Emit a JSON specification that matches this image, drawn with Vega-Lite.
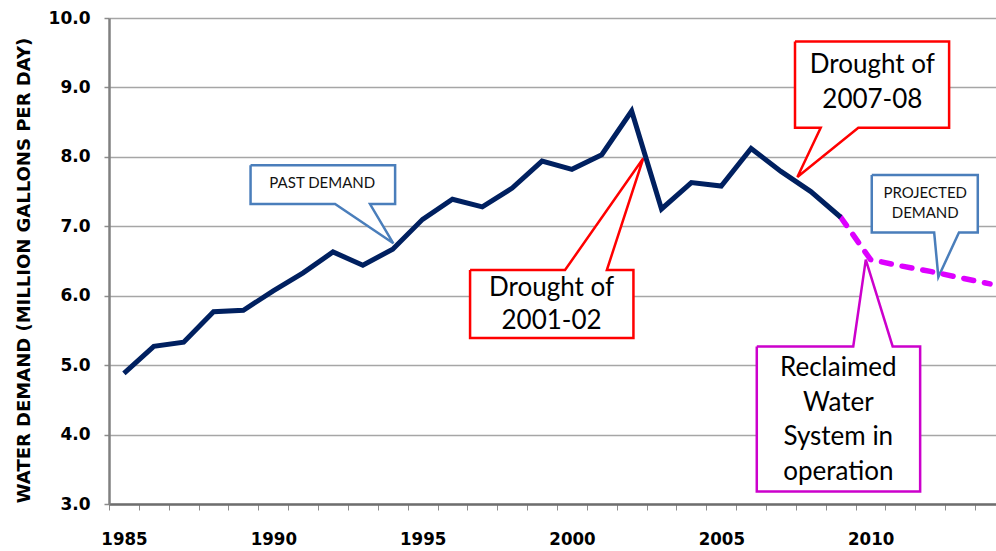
{
  "$schema": "https://vega.github.io/schema/vega-lite/v6.json",
  "width": 887,
  "height": 486,
  "autosize": "none",
  "padding": {"left": 109, "top": 18, "right": 0, "bottom": 47},
  "background": "white",
  "config": {"view": {"stroke": null}},
  "datasets": {
    "past": [
      {"year": 1985, "demand": 4.88}, {"year": 1986, "demand": 5.27}, {"year": 1987, "demand": 5.33},
      {"year": 1988, "demand": 5.77}, {"year": 1989, "demand": 5.79}, {"year": 1990, "demand": 6.07},
      {"year": 1991, "demand": 6.33}, {"year": 1992, "demand": 6.63}, {"year": 1993, "demand": 6.44},
      {"year": 1994, "demand": 6.67}, {"year": 1995, "demand": 7.10}, {"year": 1996, "demand": 7.39},
      {"year": 1997, "demand": 7.28}, {"year": 1998, "demand": 7.55}, {"year": 1999, "demand": 7.94},
      {"year": 2000, "demand": 7.82}, {"year": 2001, "demand": 8.03}, {"year": 2002, "demand": 8.66},
      {"year": 2003, "demand": 7.25}, {"year": 2004, "demand": 7.63}, {"year": 2005, "demand": 7.58},
      {"year": 2006, "demand": 8.12}, {"year": 2007, "demand": 7.79}, {"year": 2008, "demand": 7.50},
      {"year": 2009, "demand": 7.13}
    ],
    "projected": [
      {"year": 2009, "demand": 7.13}, {"year": 2010, "demand": 6.52}, {"year": 2011, "demand": 6.43},
      {"year": 2012, "demand": 6.35}, {"year": 2013, "demand": 6.26}, {"year": 2014, "demand": 6.17}
    ],
    "callouts": [
      {"id": "past", "i": 0, "x": 1989.24, "y": 7.88}, {"id": "past", "i": 1, "x": 1994.08, "y": 7.88},
      {"id": "past", "i": 2, "x": 1994.08, "y": 7.32}, {"id": "past", "i": 3, "x": 1993.24, "y": 7.32},
      {"id": "past", "i": 4, "x": 1994.02, "y": 6.755}, {"id": "past", "i": 5, "x": 1992.07, "y": 7.32},
      {"id": "past", "i": 6, "x": 1989.24, "y": 7.32}, {"id": "past", "i": 7, "x": 1989.24, "y": 7.88},

      {"id": "d0102", "i": 0, "x": 1996.59, "y": 6.37}, {"id": "d0102", "i": 1, "x": 1999.77, "y": 6.37},
      {"id": "d0102", "i": 2, "x": 2002.39, "y": 7.98}, {"id": "d0102", "i": 3, "x": 2001.17, "y": 6.37},
      {"id": "d0102", "i": 4, "x": 2002.06, "y": 6.37}, {"id": "d0102", "i": 5, "x": 2002.06, "y": 5.39},
      {"id": "d0102", "i": 6, "x": 1996.59, "y": 5.39}, {"id": "d0102", "i": 7, "x": 1996.59, "y": 6.37},

      {"id": "d0708", "i": 0, "x": 2007.47, "y": 9.66}, {"id": "d0708", "i": 1, "x": 2012.63, "y": 9.66},
      {"id": "d0708", "i": 2, "x": 2012.63, "y": 8.42}, {"id": "d0708", "i": 3, "x": 2009.59, "y": 8.42},
      {"id": "d0708", "i": 4, "x": 2007.55, "y": 7.71}, {"id": "d0708", "i": 5, "x": 2008.33, "y": 8.42},
      {"id": "d0708", "i": 6, "x": 2007.47, "y": 8.42}, {"id": "d0708", "i": 7, "x": 2007.47, "y": 9.66},

      {"id": "recl", "i": 0, "x": 2006.19, "y": 5.27}, {"id": "recl", "i": 1, "x": 2009.42, "y": 5.27},
      {"id": "recl", "i": 2, "x": 2009.84, "y": 6.52}, {"id": "recl", "i": 3, "x": 2010.74, "y": 5.27},
      {"id": "recl", "i": 4, "x": 2011.66, "y": 5.27}, {"id": "recl", "i": 5, "x": 2011.66, "y": 3.18},
      {"id": "recl", "i": 6, "x": 2006.19, "y": 3.18}, {"id": "recl", "i": 7, "x": 2006.19, "y": 5.27},

      {"id": "proj", "i": 0, "x": 2010.04, "y": 7.74}, {"id": "proj", "i": 1, "x": 2013.59, "y": 7.74},
      {"id": "proj", "i": 2, "x": 2013.59, "y": 6.91}, {"id": "proj", "i": 3, "x": 2012.96, "y": 6.91},
      {"id": "proj", "i": 4, "x": 2012.27, "y": 6.27}, {"id": "proj", "i": 5, "x": 2012.13, "y": 6.91},
      {"id": "proj", "i": 6, "x": 2010.04, "y": 6.91}, {"id": "proj", "i": 7, "x": 2010.04, "y": 7.74}
    ],
    "labels": [
      {"group": "small", "x": 1991.64, "y": 7.63, "text": "PAST  DEMAND"},
      {"group": "small", "x": 2011.83, "y": 7.48, "text": "PROJECTED"},
      {"group": "small", "x": 2011.83, "y": 7.19, "text": "DEMAND"},
      {"group": "big", "x": 1999.32, "y": 6.11, "text": "Drought of"},
      {"group": "big", "x": 1999.32, "y": 5.63, "text": "2001-02"},
      {"group": "big", "x": 2010.06, "y": 9.32, "text": "Drought of"},
      {"group": "big", "x": 2010.06, "y": 8.82, "text": "2007-08"},
      {"group": "big", "x": 2008.92, "y": 4.955, "text": "Reclaimed"},
      {"group": "big", "x": 2008.92, "y": 4.45, "text": "Water"},
      {"group": "big", "x": 2008.92, "y": 3.96, "text": "System in"},
      {"group": "big", "x": 2008.92, "y": 3.465, "text": "operation"}
    ]
  },
  "encoding": {
    "x": {
      "type": "quantitative",
      "scale": {"domain": [1984.5, 2014.2], "nice": false, "zero": false},
      "axis": {
        "title": null,
        "grid": false,
        "values": [1984.5, 1985.5, 1986.5, 1987.5, 1988.5, 1989.5, 1990.5, 1991.5, 1992.5, 1993.5, 1994.5, 1995.5, 1996.5, 1997.5, 1998.5, 1999.5, 2000.5, 2001.5, 2002.5, 2003.5, 2004.5, 2005.5, 2006.5, 2007.5, 2008.5, 2009.5, 2010.5, 2011.5, 2012.5, 2013.5],
        "labelExpr": "(datum.value + 0.5) % 5 == 0 ? toString(datum.value + 0.5) : ''",
        "labelOffset": 15,
        "labelFlush": false,
        "labelOverlap": false,
        "labelBound": false,
        "labelFont": "DejaVu Sans Condensed, DejaVu Sans",
        "labelFontWeight": "bold",
        "labelFontSize": 18.5,
        "labelColor": "#000000",
        "labelPadding": 19,
        "domainColor": "#6E6E6E",
        "domainWidth": 2.5,
        "tickColor": "#8C8C8C",
        "tickSize": 6,
        "tickWidth": 1
      }
    },
    "y": {
      "type": "quantitative",
      "scale": {"domain": [3, 10], "nice": false, "zero": false},
      "axis": {
        "title": "WATER DEMAND (MILLION GALLONS PER DAY)",
        "values": [3, 4, 5, 6, 7, 8, 9, 10],
        "format": ".1f",
        "grid": true,
        "gridColor": "#A6A6A6",
        "gridWidth": 1.5,
        "domainColor": "#808080",
        "domainWidth": 2.5,
        "tickColor": "#8C8C8C",
        "tickSize": 5,
        "tickWidth": 1.5,
        "labelFont": "DejaVu Sans",
        "labelFontWeight": "bold",
        "labelFontSize": 17,
        "labelColor": "#000000",
        "labelPadding": 14,
        "titleFont": "DejaVu Sans",
        "titleFontWeight": "bold",
        "titleFontSize": 18,
        "titleColor": "#000000",
        "titleAngle": -90,
        "titleX": -80,
        "titleY": 252,
        "titleAlign": "center",
        "titleBaseline": "alphabetic"
      }
    }
  },
  "layer": [
    {
      "mark": {"type": "rule", "color": "#000000", "strokeWidth": 2.5},
      "encoding": {"y": {"datum": 10}, "x": {"datum": 1984.5}, "x2": {"datum": 2014.2}}
    },
    {
      "data": {"name": "callouts"},
      "mark": {"type": "line", "fill": "white", "strokeWidth": 2.5, "strokeJoin": "miter"},
      "encoding": {
        "x": {"field": "x"},
        "y": {"field": "y"},
        "order": {"field": "i", "type": "quantitative"},
        "detail": {"field": "id", "type": "nominal"},
        "stroke": {
          "field": "id",
          "type": "nominal",
          "scale": {"domain": ["past", "d0102", "d0708", "recl", "proj"], "range": ["#4A7EBB", "#FF0000", "#FF0000", "#CC00CC", "#4A7EBB"]},
          "legend": null
        }
      }
    },
    {
      "data": {"name": "labels"},
      "transform": [{"filter": "datum.group == 'small'"}],
      "mark": {"type": "text", "font": "Lato", "fontSize": 15, "color": "#111111", "align": "center", "baseline": "middle"},
      "encoding": {"x": {"field": "x"}, "y": {"field": "y"}, "text": {"field": "text"}}
    },
    {
      "data": {"name": "labels"},
      "transform": [{"filter": "datum.group == 'big'"}],
      "mark": {"type": "text", "font": "Lato", "fontSize": 26, "color": "#000000", "align": "center", "baseline": "middle"},
      "encoding": {"x": {"field": "x"}, "y": {"field": "y"}, "text": {"field": "text"}}
    },
    {
      "data": {"name": "projected"},
      "mark": {"type": "line", "color": "#DD00FF", "strokeWidth": 5.5, "strokeDash": [10, 11], "strokeCap": "round"},
      "encoding": {"x": {"field": "year"}, "y": {"field": "demand"}}
    },
    {
      "data": {"name": "past"},
      "mark": {"type": "line", "color": "#002060", "strokeWidth": 5, "strokeJoin": "miter"},
      "encoding": {"x": {"field": "year"}, "y": {"field": "demand"}}
    }
  ]
}
